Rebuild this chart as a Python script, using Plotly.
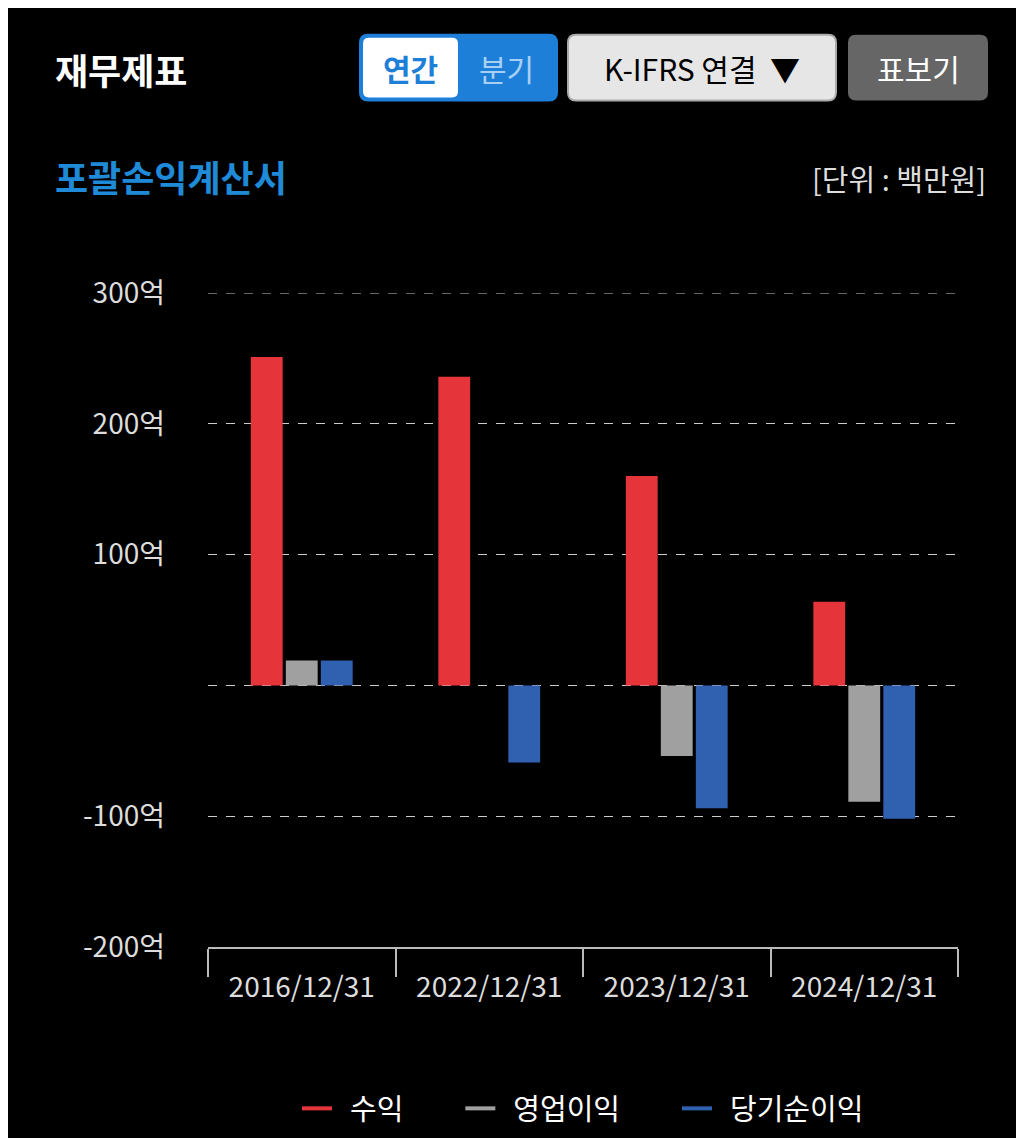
import plotly.graph_objects as go

categories = ["2016/12/31", "2022/12/31", "2023/12/31", "2024/12/31"]
revenue = [251, 236, 160, 64]
op_income = [19, 0, -54, -89]
net_income = [19, -59, -94, -102]
yticks = [300, 200, 100, 0, -100, -200]
yticklabels = ["300억", "200억", "100억", "", "-100억", "-200억"]

F = "Noto Sans CJK KR"
fig = go.Figure()
for name, vals, col in [("수익", revenue, "#e5343a"), ("영업이익", op_income, "#a0a0a0"), ("당기순이익", net_income, "#3060b0")]:
    fig.add_bar(x=categories, y=vals, name=name, marker_color=col, marker_line_width=0, showlegend=False)
for name, col in [("  수익" + "\u00a0" * 8, "#e5343a"), ("  영업이익" + "\u00a0" * 8, "#a0a0a0"), ("  당기순이익", "#3060b0")]:
    fig.add_scatter(x=[None], y=[None], mode="lines", name=name, line=dict(color=col, width=4))

def px(x): return (x - 200) / 750
def py(y): return (941 - y) / 656

def rrect(x0, y0, x1, y1, r=8):
    X0, X1, Y0, Y1 = px(x0), px(x1), py(y1), py(y0)
    rx, ry = r / 750, r / 656
    return (f"M {X0+rx},{Y0} L {X1-rx},{Y0} Q {X1},{Y0} {X1},{Y0+ry} L {X1},{Y1-ry} Q {X1},{Y1} {X1-rx},{Y1} "
            f"L {X0+rx},{Y1} Q {X0},{Y1} {X0},{Y1-ry} L {X0},{Y0+ry} Q {X0},{Y0} {X0+rx},{Y0} Z")

shapes = [
    dict(type="path", path=rrect(352, 26, 549, 92), fillcolor="#1e7fd8", line=dict(color="#1e7fd8", width=2)),
    dict(type="path", path=rrect(355, 29, 450, 89, 6), fillcolor="white", line_width=0),
    dict(type="path", path=rrect(560, 26, 828, 92), fillcolor="#e6e6e6", line=dict(color="#aaaaaa", width=2)),
    dict(type="path", path=rrect(840, 26, 980, 92), fillcolor="#666666", line_width=0),
    dict(type="line", x0=0, x1=1, y0=300, y1=300, xref="paper", yref="y", line=dict(color="#cccccc", width=1, dash="dash")),
]
for s in shapes:
    s.setdefault("xref", "paper"); s.setdefault("yref", "paper")
ann = [
    dict(text="<b>재무제표</b>", x=px(45), y=py(60), xanchor="left", font=dict(size=36, color="white")),
    dict(text="<b>연간</b>", x=px(402), y=py(59), font=dict(size=30, color="#1e7fd8")),
    dict(text="분기", x=px(498), y=py(59), font=dict(size=30, color="#a8d0f5")),
    dict(text="K-IFRS 연결  ▼", x=px(694), y=py(59), font=dict(size=30, color="black")),
    dict(text="표보기", x=px(910), y=py(59), font=dict(size=30, color="white")),
    dict(text="<b>포괄손익계산서</b>", x=px(45), y=py(168), xanchor="left", font=dict(size=36, color="#1e8ad8")),
    dict(text="[단위 : 백만원]", x=px(980), y=py(170), xanchor="right", font=dict(size=29, color="#dddddd")),
]
for a in ann:
    a.setdefault("xanchor", "center")
    a.update(xref="paper", yref="paper", showarrow=False, yanchor="middle")
    a["font"]["family"] = F

fig.update_layout(
    width=1024, height=1138, paper_bgcolor="black", plot_bgcolor="black",
    margin=dict(l=200, r=74, t=285, b=197),
    font=dict(family=F, color="white"),
    barmode="group", bargap=0.44, bargroupgap=0.09,
    shapes=shapes, annotations=ann,
    legend=dict(orientation="h", x=0.5, xanchor="center", y=py(1103), yanchor="middle",
                font=dict(size=29, color="white")),
    xaxis=dict(showline=True, linecolor="#bbbbbb", linewidth=2, ticks="outside", tickson="boundaries",
               ticklen=28, tickwidth=2, tickcolor="#bbbbbb", tickfont=dict(size=28, color="#dddddd"),
               ticklabelstandoff=14, showgrid=False, fixedrange=True),
    yaxis=dict(range=[-200, 300], tickvals=yticks, ticktext=yticklabels, tickfont=dict(size=28, color="#dddddd"),
               showgrid=True, gridcolor="#cccccc", griddash="dash", gridwidth=1, zeroline=False,
               ticklabelstandoff=42, fixedrange=True),
)
fig.write_html("out.html")
